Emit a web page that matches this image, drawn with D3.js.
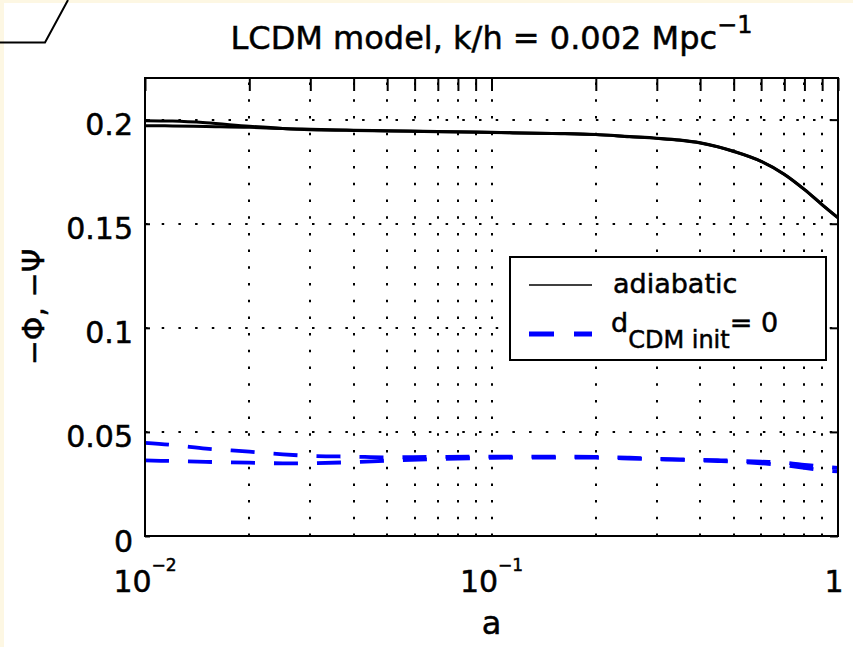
<!DOCTYPE html>
<html>
<head>
<meta charset="utf-8">
<script src="https://cdn.jsdelivr.net/npm/d3@7"></script>
<style>
  html, body { margin: 0; padding: 0; background: #fdf7e3; }
  svg { display: block; }
  text { font-family: "DejaVu Sans", "Liberation Sans", Arial, sans-serif; fill: #000; stroke: #000; stroke-width: 0.5px; }
</style>
</head>
<body>
<svg id="chart" width="853" height="647"></svg>
<script>
// Scale factor a (log axis) at which the potentials are sampled
const aValues = [0.01, 0.012, 0.015, 0.02, 0.025, 0.03, 0.04, 0.05, 0.07, 0.1, 0.15, 0.2, 0.25, 0.3, 0.35, 0.4, 0.45, 0.5, 0.6, 0.7, 0.8, 0.9, 1.0];

// Adiabatic initial conditions: -Phi and -Psi
const adiabaticPhi = [0.1995, 0.1993, 0.1985, 0.1968, 0.1958, 0.1954, 0.1949, 0.1947, 0.1943, 0.1939, 0.1934, 0.1929, 0.1919, 0.1911, 0.1902, 0.1889, 0.1870, 0.1848, 0.1800, 0.1738, 0.1665, 0.1592, 0.1529];
const adiabaticPsi = [0.1971, 0.1970, 0.1967, 0.1963, 0.1957, 0.1952, 0.1948, 0.1946, 0.1942, 0.1938, 0.1933, 0.1928, 0.1918, 0.1910, 0.1901, 0.1888, 0.1869, 0.1847, 0.1799, 0.1737, 0.1664, 0.1591, 0.1528];

// Zero initial CDM density contrast: -Phi and -Psi
const cdmZeroPhi = [0.0447, 0.0437, 0.0420, 0.0405, 0.0392, 0.0385, 0.0381, 0.0378, 0.0380, 0.0381, 0.0381, 0.0380, 0.0376, 0.0371, 0.0368, 0.0366, 0.0364, 0.0362, 0.0357, 0.0352, 0.0342, 0.0333, 0.0327];
const cdmZeroPsi = [0.0363, 0.0360, 0.0356, 0.0352, 0.0349, 0.0350, 0.0355, 0.0362, 0.0370, 0.0375, 0.0377, 0.0376, 0.0372, 0.0368, 0.0366, 0.0363, 0.0360, 0.0357, 0.0349, 0.0340, 0.0327, 0.0316, 0.0310];

const yTickValues = [0, 0.05, 0.1, 0.15, 0.2];
const yTickLabels = ["0", "0.05", "0.1", "0.15", "0.2"];
const xTickValues = [0.01, 0.1, 1];
const xTickLabels = [{base: "10", exp: "\u22122"}, {base: "10", exp: "\u22121"}, {base: "1", exp: null}];

const legendLabels = ["adiabatic", "d"];

const svg = d3.select("#chart");
const W = 853, H = 647;
const plot = {left: 145, right: 838, top: 78, bottom: 536};

// White figure panel over the cream window background
svg.append("rect").attr("x", 4).attr("y", 3).attr("width", W - 4).attr("height", H - 3).attr("fill", "#ffffff");

// Window corner decoration
svg.append("path")
  .attr("d", "M0,42.5 L45,42.5 L68,0")
  .attr("fill", "none").attr("stroke", "#000").attr("stroke-width", 2);

const x = d3.scaleLog().domain([0.01, 1]).range([plot.left, plot.right]);
const y = d3.scaleLinear().domain([0, 0.22]).range([plot.bottom, plot.top]);

// Plot area background
svg.append("rect")
  .attr("x", plot.left).attr("y", plot.top)
  .attr("width", plot.right - plot.left).attr("height", plot.bottom - plot.top)
  .attr("fill", "#fff");

// Dotted grid
const minorX = x.ticks().filter(v => v > 0.0100001 && v < 0.99999);
const grid = svg.append("g").attr("stroke", "#000").attr("stroke-width", 2)
  .attr("stroke-dasharray", "2.5,14.2").attr("fill", "none");
grid.selectAll("line.v").data(minorX).join("line").attr("class", "v")
  .attr("x1", d => Math.round(x(d))).attr("x2", d => Math.round(x(d)))
  .attr("y1", plot.bottom).attr("y2", plot.top);
grid.selectAll("line.h").data(yTickValues.filter(v => v > 0)).join("line").attr("class", "h")
  .attr("x1", plot.left).attr("x2", plot.right)
  .attr("y1", d => Math.round(y(d))).attr("y2", d => Math.round(y(d)));

// Curves
const line = d3.line().x((d, i) => x(aValues[i])).y(d => y(d)).curve(d3.curveMonotoneX);
const series = [
  {values: adiabaticPsi, color: "#000", width: 3, dash: null},
  {values: adiabaticPhi, color: "#000", width: 3, dash: null},
  {values: cdmZeroPsi, color: "#0000ff", width: 3.8, dash: "24,19"},
  {values: cdmZeroPhi, color: "#0000ff", width: 3.8, dash: "24,19"}
];
svg.append("g").selectAll("path").data(series).join("path")
  .attr("d", d => line(d.values))
  .attr("fill", "none")
  .attr("stroke", d => d.color)
  .attr("stroke-width", d => d.width)
  .attr("stroke-dasharray", d => d.dash);

// Axes: ticks drawn inward
const xAll = x.ticks();
svg.append("g").attr("transform", `translate(0,${plot.top})`)
  .call(d3.axisTop(x).tickValues(xAll).tickFormat("").tickSize(-13))
  .call(g => g.select(".domain").remove())
  .selectAll("line").attr("stroke", "#000").attr("stroke-width", 2);

svg.append("g").attr("transform", `translate(${plot.right},0)`)
  .call(d3.axisRight(y).tickValues(yTickValues).tickFormat("").tickSize(-8))
  .call(g => g.select(".domain").remove())
  .selectAll("line").attr("stroke", "#000").attr("stroke-width", 2);

const yAxis = svg.append("g").attr("transform", `translate(${plot.left},0)`)
  .call(d3.axisLeft(y).tickValues(yTickValues)
    .tickFormat((d, i) => yTickLabels[i]).tickSize(-5).tickPadding(12))
  .call(g => g.select(".domain").remove());
yAxis.selectAll("line").attr("stroke", "#000").attr("stroke-width", 2);
yAxis.selectAll("text").attr("dy", "0.5em")
  .style("font-family", "DejaVu Sans").style("font-size", "30px").attr("fill", "#000");

// Frame
svg.append("rect")
  .attr("x", plot.left).attr("y", plot.top)
  .attr("width", plot.right - plot.left).attr("height", plot.bottom - plot.top)
  .attr("fill", "none").attr("stroke", "#000").attr("stroke-width", 2);

// X tick labels with exponents
const xl = svg.append("g");
xTickValues.forEach((v, i) => {
  const lab = xTickLabels[i];
  const t = xl.append("text")
    .attr("x", lab.exp ? x(v) : x(v) - 4).attr("y", 592)
    .attr("text-anchor", "middle").style("font-size", "30px");
  t.append("tspan").text(lab.base);
  if (lab.exp) {
    t.append("tspan").attr("dy", -21).style("font-size", "17px").text(lab.exp);
  }
});

// Axis titles
svg.append("text").attr("x", (plot.left + plot.right) / 2).attr("y", 634)
  .attr("text-anchor", "middle").style("font-size", "32px").text("a");

svg.append("text")
  .attr("transform", `translate(44,${(plot.top + plot.bottom) / 2}) rotate(-90)`)
  .attr("text-anchor", "middle").style("font-size", "30px")
  .text("\u2212\u03A6, \u2212\u03A8");

// Title
const title = svg.append("text").attr("x", (plot.left + plot.right) / 2).attr("y", 49)
  .attr("text-anchor", "middle").style("font-size", "32px");
title.append("tspan").text("LCDM model, k/h = 0.002 Mpc");
title.append("tspan").attr("dy", -16).style("font-size", "24px").text("\u22121");

// Legend
const lg = svg.append("g");
lg.append("rect").attr("x", 510).attr("y", 257).attr("width", 316).attr("height", 103)
  .attr("fill", "#fff").attr("stroke", "#000").attr("stroke-width", 2);
const rows = [285, 334];
[series[0], series[2]].forEach((s, i) => {
  lg.append("line").attr("x1", 529).attr("x2", 592).attr("y1", rows[i]).attr("y2", rows[i])
    .attr("stroke", s.color)
    .attr("stroke-width", s.dash ? 5 : 1.5)
    .attr("stroke-dasharray", s.dash ? "25,20" : null);
});
lg.append("text").attr("x", 613).attr("y", 293).style("font-size", "27px").text(legendLabels[0]);
const t2 = lg.append("text").attr("x", 611).attr("y", 332).style("font-size", "27px");
t2.append("tspan").text(legendLabels[1]);
t2.append("tspan").attr("dy", 16).style("font-size", "24px").text("CDM init");
t2.append("tspan").attr("dy", -16).style("font-size", "27px").text("= 0");
</script>
</body>
</html>
